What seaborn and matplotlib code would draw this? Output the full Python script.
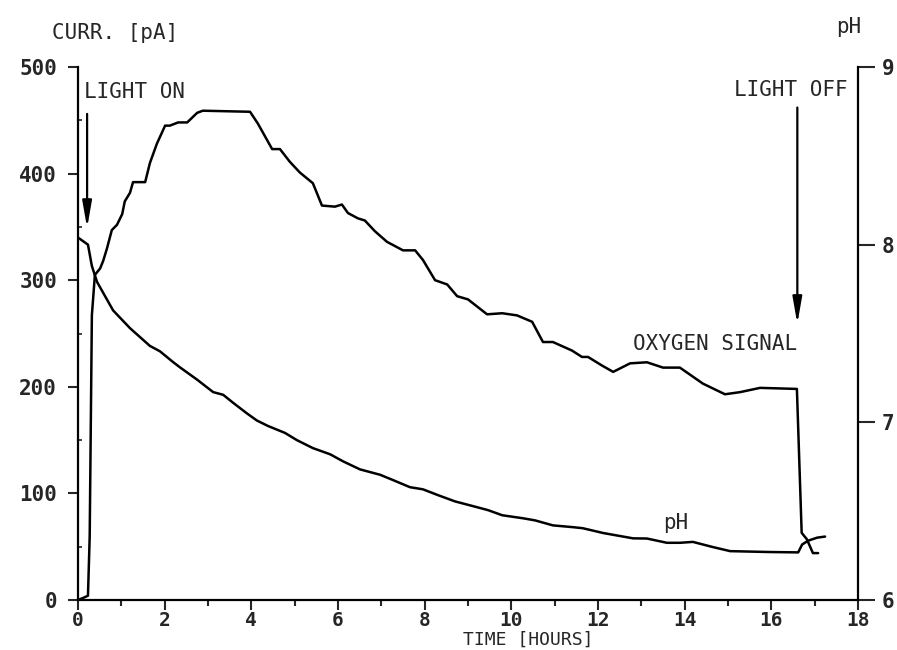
import numpy as np
import pandas as pd
import matplotlib
matplotlib.use("Agg")
import matplotlib.pyplot as plt
import seaborn as sns
from matplotlib.ticker import MultipleLocator

# ---- data ----
oxy_time = [0, 0.12, 0.23, 0.27, 0.32, 0.39, 0.51, 0.58, 0.67, 0.78, 0.90, 1.02, 1.08, 1.20,
            1.27, 1.55, 1.66, 1.82, 2.01, 2.12, 2.31, 2.52, 2.75, 2.88, 3.97, 4.15, 4.48,
            4.66, 4.89, 5.12, 5.42, 5.63, 5.93, 6.09, 6.23, 6.46, 6.62, 6.85, 7.13, 7.50,
            7.78, 7.96, 8.24, 8.52, 8.75, 9.00, 9.44, 9.79, 10.13, 10.48, 10.73, 10.96,
            11.40, 11.63, 11.77, 12.09, 12.35, 12.74, 13.13, 13.50, 13.89, 14.42, 14.93,
            15.28, 15.74, 16.59, 16.70, 16.82, 16.96, 17.08]
oxy_current = [0, 2, 4, 60, 267, 305, 311, 318, 330, 347, 352, 362, 374, 382,
               392, 392, 410, 428, 445, 445, 448, 448, 457, 459, 458, 447, 423,
               423, 411, 401, 391, 370, 369, 371, 363, 358, 356, 346, 336, 328,
               328, 319, 300, 296, 285, 282, 268, 269, 267, 261, 242, 242,
               234, 228, 228, 220, 214, 222, 223, 218, 218, 203, 193,
               195, 199, 198, 63, 57, 44, 44]

ph_time = [0, 0.23, 0.32, 0.44, 0.81, 1.20, 1.66, 1.89, 2.19, 2.35, 2.75, 3.12, 3.35, 3.58,
           3.90, 4.13, 4.38, 4.78, 5.05, 5.42, 5.82, 6.12, 6.51, 6.97, 7.27, 7.66, 7.96,
           8.31, 8.70, 9.09, 9.46, 9.79, 10.27, 10.55, 10.96, 11.42, 11.65, 12.12, 12.51,
           12.81, 13.13, 13.59, 13.89, 14.19, 14.65, 15.05, 15.97, 16.62, 16.71, 16.85,
           17.06, 17.24]
ph_value = [8.04, 8.00, 7.88, 7.79, 7.63, 7.53, 7.43, 7.40, 7.34, 7.31, 7.24, 7.17, 7.155, 7.11,
            7.05, 7.01, 6.98, 6.94, 6.90, 6.855, 6.82, 6.78, 6.735, 6.705, 6.675, 6.635, 6.623,
            6.59, 6.555, 6.53, 6.506, 6.477, 6.46, 6.448, 6.42, 6.41, 6.404, 6.377, 6.36,
            6.347, 6.346, 6.322, 6.322, 6.327, 6.298, 6.275, 6.27, 6.268, 6.312, 6.334,
            6.351, 6.357]

current_ticks = [0, 100, 200, 300, 400, 500]
ph_ticks = [6, 7, 8, 9]
time_ticks = [0, 2, 4, 6, 8, 10, 12, 14, 16, 18]

oxy_df = pd.DataFrame({"time": oxy_time, "current": oxy_current})
ph_df = pd.DataFrame({"time": ph_time, "ph": ph_value})

sns.set_style("ticks")
plt.rcParams["font.family"] = ["DejaVu Sans Mono", "DejaVu Sans"]
FS = 15

fig = plt.figure(figsize=(8.97, 6.5), dpi=100)
ax = fig.add_axes([78 / 897, 1 - 600 / 650, 780 / 897, 533 / 650])
ax2 = ax.twinx()

sns.lineplot(data=oxy_df, x="time", y="current", ax=ax, color="black", lw=1.8,
             sort=False, estimator=None)
sns.lineplot(data=ph_df, x="time", y="ph", ax=ax2, color="black", lw=1.8,
             sort=False, estimator=None)

ax.set_xlim(0, 18)
ax.set_ylim(0, 500)
ax2.set_ylim(6, 9)
ax.set_xlabel("")
ax.set_ylabel("")
ax2.set_ylabel("")

ax.set_xticks(time_ticks)
ax.set_xticklabels([str(t) for t in time_ticks], fontsize=14, fontweight="bold")
ax.xaxis.set_minor_locator(MultipleLocator(1))
ax.set_yticks(current_ticks)
ax.set_yticklabels([str(c) for c in current_ticks], fontsize=FS, fontweight="bold")
ax.yaxis.set_minor_locator(MultipleLocator(50))
ax2.set_yticks(ph_ticks)
ax2.set_yticklabels([str(p) for p in ph_ticks], fontsize=FS, fontweight="bold")

ax.tick_params(axis="x", which="major", direction="out", length=7, width=1.5, pad=1)
ax.tick_params(axis="x", which="minor", direction="out", length=4, width=1.5)
ax.tick_params(axis="y", which="major", direction="out", length=7, width=1.5, pad=8)
ax.tick_params(axis="y", which="minor", direction="in", length=3, width=1.2)
ax2.tick_params(axis="y", which="major", direction="out", length=12, width=1.5, pad=5)

for a in (ax, ax2):
    a.spines["top"].set_visible(False)
    for s in ("left", "right", "bottom"):
        a.spines[s].set_linewidth(1.6)
        a.spines[s].set_color("black")
ax.spines["right"].set_visible(False)
ax2.spines["left"].set_visible(False)
ax2.spines["bottom"].set_visible(False)

# annotations
ax.text(0.14, 477, "LIGHT ON", fontsize=FS, ha="left", va="center")
ax.annotate("", xy=(0.21, 349), xytext=(0.21, 456),
            arrowprops=dict(arrowstyle="-|>,head_length=0.8,head_width=0.14",
                            color="black", lw=1.6, mutation_scale=20,
                            shrinkA=0, shrinkB=0))
ax.text(17.75, 478, "LIGHT OFF", fontsize=FS, ha="right", va="center")
ax.annotate("", xy=(16.6, 259), xytext=(16.6, 462),
            arrowprops=dict(arrowstyle="-|>,head_length=0.8,head_width=0.14",
                            color="black", lw=1.6, mutation_scale=20,
                            shrinkA=0, shrinkB=0))
ax.text(12.81, 240, "OXYGEN SIGNAL", fontsize=FS, ha="left", va="center")
ax.text(13.5, 72, "pH", fontsize=FS, ha="left", va="center")

fig.text(52 / 897, 1 - 33 / 650, "CURR. [pA]", fontsize=FS, ha="left", va="center")
fig.text(849 / 897, 1 - 27 / 650, "pH", fontsize=FS, ha="center", va="center")
fig.text(528 / 897, 1 - 631 / 650, "TIME [HOURS]", fontsize=13, ha="center", va="top")

fig.savefig("out.png", dpi=100)
